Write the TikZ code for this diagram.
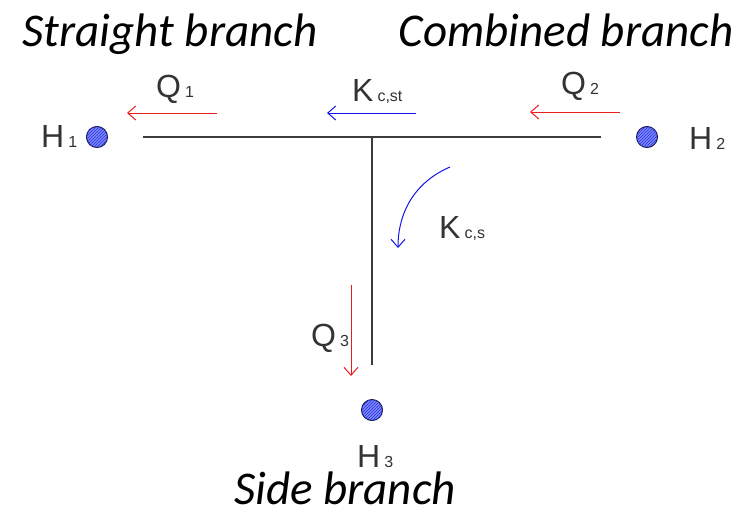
\documentclass[tikz,border=0pt]{standalone}
\usepackage{fontspec}
\setmainfont{Liberation Sans}
\newfontfamily\titlefont{Carlito}
\usetikzlibrary{arrows.meta,patterns}
\definecolor{ballfill}{RGB}{125,135,250}
\definecolor{ballhatch}{RGB}{40,50,230}
\definecolor{ballline}{RGB}{25,25,80}
\definecolor{qred}{RGB}{235,30,30}
\definecolor{kblue}{RGB}{20,20,235}
\definecolor{pipe}{RGB}{60,60,60}
\newcommand\lbl[2]{{\fontsize{32}{32}\selectfont #1}\hspace{4pt}{\fontsize{16}{16}\selectfont #2}}
\tikzset{
  ball/.style={circle, minimum size=21pt, inner sep=0pt, fill=ballfill, draw=ballline, line width=1pt,
     postaction={pattern=north east lines, pattern color=ballhatch}},
  pipeline/.style={draw=pipe, line width=1.4pt},
  flowarrow/.style={line width=1pt, -{Straight Barb[length=8pt,width=14pt,line width=1pt]}},
  qarrow/.style={flowarrow, draw=qred},
  karrow/.style={flowarrow, draw=kblue},
  lab/.style={inner sep=0pt, anchor=base west, text=black!80, text depth=0pt},
  title/.style={font=\titlefont\itshape\fontsize{47}{50}\selectfont, inner sep=0pt, anchor=base,
     text height=32pt, text depth=0pt}
}
\begin{document}
\begin{tikzpicture}[x=1pt,y=-1pt]
\useasboundingbox[fill=white] (0,0) rectangle (751,514);
% titles
\node[title] (t1) at (170,46) {Straight branch};
\node[title] (t2) at (566,46) {Combined branch};
\node[title] (t3) at (345,504) {Side branch};
% pipes
\coordinate (pl) at (143,137);
\coordinate (pr) at (601,137);
\coordinate (pj) at (372,137);
\coordinate (pb) at (372,365);
\draw[pipeline] (pl) -- (pr);
\draw[pipeline] (pj) -- (pb);
% balls
\node[ball] (b1) at (97,137) {};
\node[ball] (b2) at (647,137) {};
\node[ball] (b3) at (372,410) {};
% H labels
\node[lab] (h1) at (41,147) {\lbl{H}{1}};
\node[lab] (h2) at (689,149) {\lbl{H}{2}};
\node[lab] (h3) at (357,467) {\lbl{H}{3}};
% flow arrows
\coordinate (q1s) at (217,113); \coordinate (q1e) at (127,113);
\draw[qarrow] (q1s) -- (q1e);
\node[lab] (q1) at (156,97) {\lbl{Q}{1}};
\coordinate (kss) at (416,113); \coordinate (kse) at (327,113);
\draw[karrow] (kss) -- (kse);
\node[lab] (kst) at (352,101) {\lbl{K}{c,st}};
\coordinate (q2s) at (620,112); \coordinate (q2e) at (530,112);
\draw[qarrow] (q2s) -- (q2e);
\node[lab] (q2) at (561,94) {\lbl{Q}{2}};
\coordinate (kcs1) at (450,167); \coordinate (kcs2) at (398,248);
\draw[karrow] (kcs1) .. controls (415,182) and (398,212) .. (kcs2);
\node[lab] (kcs) at (439,238) {\lbl{K}{c,s}};
\coordinate (q3s) at (351,285); \coordinate (q3e) at (351,376);
\draw[qarrow] (q3s) -- (q3e);
\node[lab] (q3) at (311,346) {\lbl{Q}{3}};
\end{tikzpicture}
\end{document}
